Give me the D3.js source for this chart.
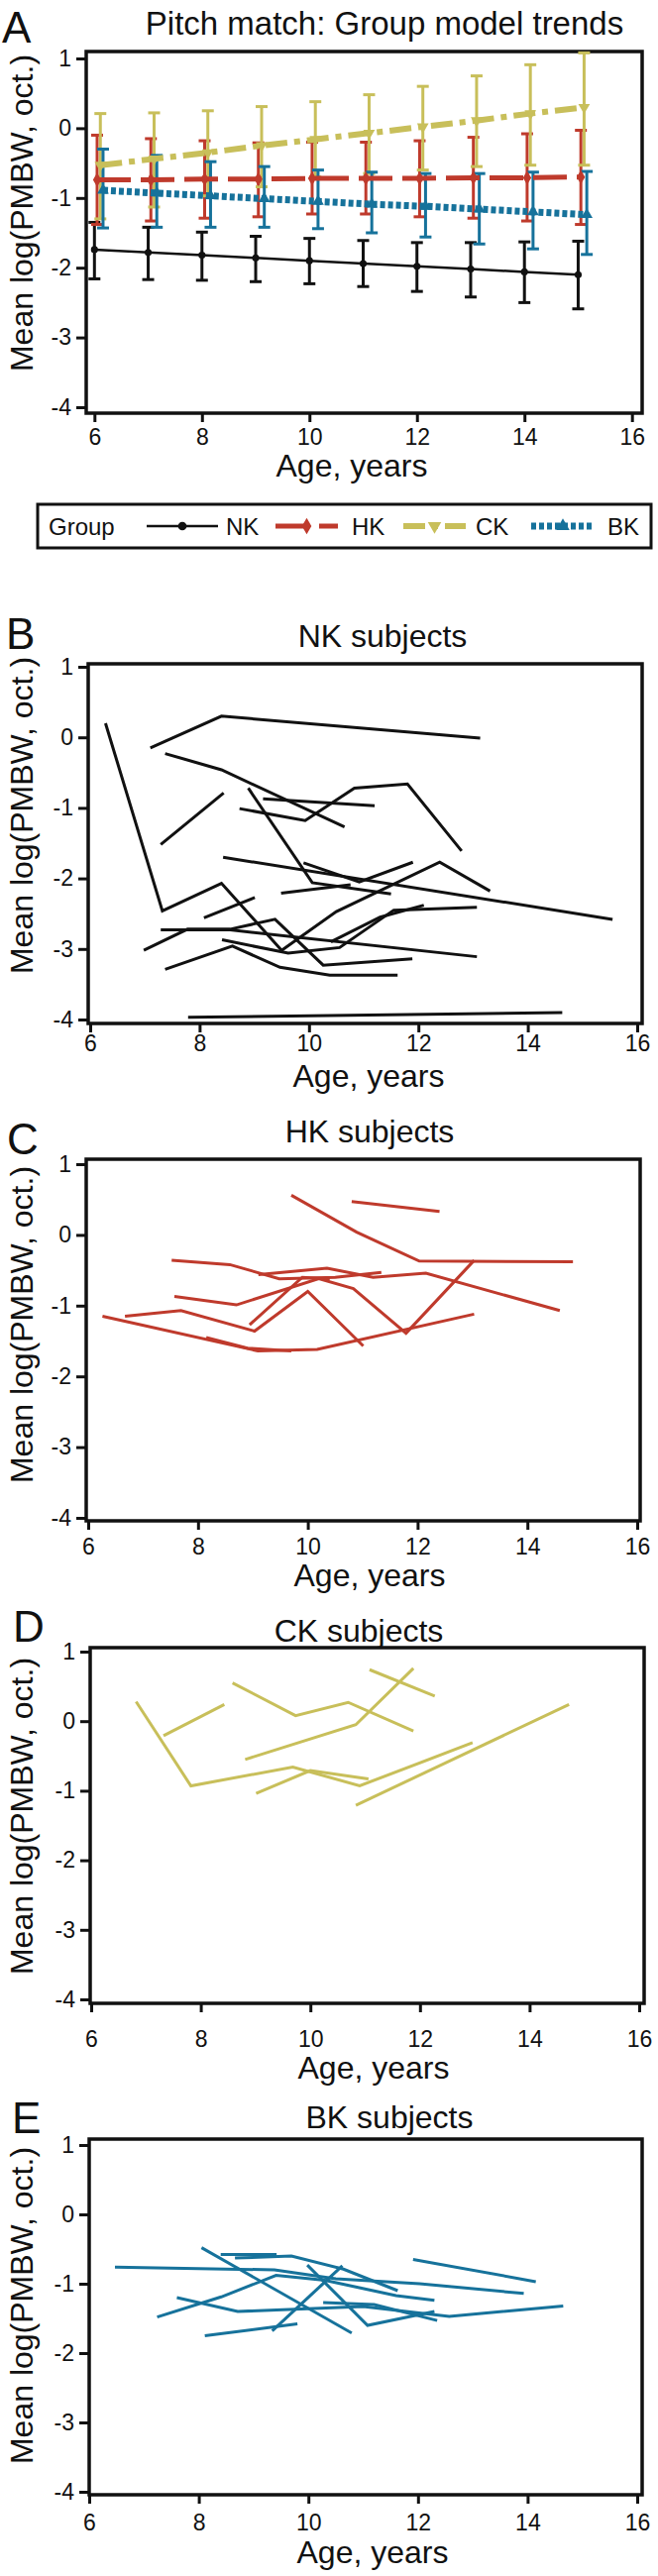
<!DOCTYPE html>
<html>
<head>
<meta charset="utf-8">
<script src="https://cdn.jsdelivr.net/npm/d3@7"></script>
<style>
  body { margin: 0; background: #fff; }
  svg text { font-family: "Liberation Sans", Arial, sans-serif; fill: #111; }
</style>
</head>
<body>
<script>
// ---------- data ----------
var ages = [6, 7, 8, 9, 10, 11, 12, 13, 14, 15];
var groups = ["NK", "HK", "CK", "BK"];
var xTicks = [6, 8, 10, 12, 14, 16];
var yTicks = [1, 0, -1, -2, -3, -4];

// panel A: model means and error bar ends
var nkMean = [-1.74, -1.78, -1.82, -1.86, -1.90, -1.94, -1.98, -2.02, -2.06, -2.10];
var nkLo   = [-2.16, -2.17, -2.18, -2.20, -2.23, -2.27, -2.34, -2.42, -2.50, -2.59];
var nkHi   = [-1.35, -1.42, -1.49, -1.55, -1.58, -1.61, -1.64, -1.64, -1.63, -1.62];

var hkMean = [-0.74, -0.74, -0.73, -0.73, -0.72, -0.72, -0.72, -0.71, -0.71, -0.70];
var hkLo   = [-1.38, -1.33, -1.29, -1.27, -1.23, -1.23, -1.27, -1.29, -1.33, -1.38];
var hkHi   = [-0.10, -0.15, -0.18, -0.21, -0.20, -0.20, -0.18, -0.13, -0.08, -0.03];

var ckMean = [-0.53, -0.44, -0.35, -0.25, -0.16, -0.07, 0.02, 0.11, 0.21, 0.30];
var ckLo   = [-1.30, -1.13, -0.97, -0.84, -0.70, -0.65, -0.60, -0.55, -0.53, -0.53];
var ckHi   = [0.21, 0.22, 0.25, 0.31, 0.38, 0.48, 0.60, 0.75, 0.91, 1.08];

var bkMean = [-0.89, -0.93, -0.97, -1.01, -1.05, -1.09, -1.12, -1.16, -1.20, -1.24];
var bkLo   = [-1.43, -1.42, -1.42, -1.42, -1.44, -1.50, -1.56, -1.66, -1.73, -1.81];
var bkHi   = [-0.30, -0.39, -0.48, -0.55, -0.60, -0.63, -0.65, -0.65, -0.63, -0.62];

// panels B-E: one polyline per subject, [age, value]
var nkSubjects = [
  [[6.28, 0.20], [7.32, -2.46], [8.40, -2.07], [9.50, -3.02], [10.5, -2.47], [12.39, -1.77], [13.31, -2.18]],
  [[7.1, -0.15], [8.4, 0.30], [13.13, -0.01]],
  [[7.37, -0.23], [8.4, -0.46], [10.65, -1.27]],
  [[7.29, -1.52], [8.44, -0.79]],
  [[8.73, -1.01], [9.93, -1.18], [10.83, -0.72], [11.8, -0.66], [12.79, -1.61]],
  [[9.16, -0.87], [11.2, -0.97]],
  [[8.89, -0.72], [10.06, -2.06], [11.5, -2.22]],
  [[9.49, -2.21], [10.76, -2.09]],
  [[8.43, -1.70], [15.55, -2.58]],
  [[9.9, -1.78], [10.92, -2.05], [11.9, -1.77]],
  [[7.29, -2.73], [8.56, -2.73], [13.07, -3.11]],
  [[6.98, -3.02], [7.78, -2.72], [8.56, -2.72], [9.38, -2.58], [10.26, -3.23], [11.89, -3.14]],
  [[7.37, -3.29], [8.6, -2.96], [9.47, -3.26], [10.38, -3.37], [11.62, -3.37]],
  [[8.41, -2.87], [9.62, -3.06], [10.56, -2.98], [11.55, -2.45], [13.07, -2.41]],
  [[10.4, -2.9], [11.3, -2.55], [12.1, -2.38]],
  [[8.08, -2.56], [9.01, -2.27]],
  [[7.79, -3.97], [14.63, -3.90]]
];

var hkSubjects = [
  [[9.70, 0.56], [10.89, 0.04], [12.03, -0.37], [14.83, -0.38]],
  [[10.80, 0.47], [12.40, 0.33]],
  [[7.52, -0.36], [8.58, -0.42], [9.48, -0.62], [10.5, -0.60], [11.34, -0.53]],
  [[9.1, -0.56], [10.35, -0.47], [11.19, -0.60], [12.15, -0.54], [14.59, -1.07]],
  [[7.57, -0.87], [8.7, -0.99], [10.2, -0.62], [10.83, -0.76], [11.79, -1.39], [13.03, -0.36]],
  [[6.67, -1.15], [7.69, -1.07], [9.03, -1.36], [10.0, -0.80], [11.01, -1.57]],
  [[8.94, -1.27], [9.9, -0.60], [10.4, -0.62]],
  [[6.26, -1.15], [9.09, -1.64], [10.17, -1.62], [13.03, -1.12]],
  [[8.15, -1.45], [8.9, -1.60], [9.7, -1.64]]
];

var ckSubjects = [
  [[6.82, 0.28], [7.82, -0.93], [9.68, -0.66], [10.9, -0.93], [12.96, -0.31]],
  [[9.01, -1.04], [10.0, -0.71], [11.06, -0.83]],
  [[10.83, -1.21], [14.72, 0.24]],
  [[7.32, -0.21], [8.43, 0.24]],
  [[8.58, 0.55], [9.73, 0.08], [10.69, 0.27], [11.88, -0.14]],
  [[8.81, -0.55], [10.83, -0.05], [11.88, 0.76]],
  [[11.08, 0.74], [12.27, 0.36]]
];

var bkSubjects = [
  [[6.47, -0.76], [9.38, -0.80], [10.5, -0.93], [12.03, -1.00], [13.93, -1.14]],
  [[8.05, -0.48], [10.79, -1.71]],
  [[8.40, -0.58], [9.42, -0.58]],
  [[8.66, -0.63], [9.69, -0.60], [10.64, -0.79], [11.63, -1.10]],
  [[11.91, -0.65], [14.15, -0.97]],
  [[7.24, -1.48], [8.41, -1.19], [9.41, -0.88], [10.3, -0.95], [11.6, -1.17], [12.3, -1.24]],
  [[7.6, -1.20], [8.71, -1.40], [11.0, -1.33], [12.57, -1.47], [14.65, -1.32]],
  [[8.11, -1.75], [9.8, -1.58]],
  [[9.34, -1.68], [10.62, -0.74]],
  [[9.98, -0.73], [11.08, -1.60], [12.3, -1.40]],
  [[10.27, -1.27], [11.2, -1.30], [12.35, -1.53]]
];

// ---------- drawing ----------
var colors = { NK: "#111111", HK: "#bf3a2c", CK: "#c8bf5a", BK: "#16729b" };
var font = '"Liberation Sans", Arial, sans-serif';

var svg = d3.select("body").append("svg")
  .attr("width", 664)
  .attr("height", 2600);

svg.append("rect").attr("width", 664).attr("height", 2600).attr("fill", "#fff");

// one panel frame with axes, titles and labels; returns its scales
function drawPanel(p) {
  var x = d3.scaleLinear().domain([6, 16]).range([p.x6, p.x16]);
  var y = d3.scaleLinear().domain([1, -4]).range([p.y1, p.y4]);

  var yAxis = d3.axisLeft(y).tickValues(yTicks).tickSize(10).tickPadding(5)
    .tickFormat(function(d) { return String(d); });
  var gy = svg.append("g").attr("transform", "translate(" + p.left + ",0)").call(yAxis);
  gy.select(".domain").remove();
  gy.attr("font-size", 23).attr("font-family", font);
  gy.selectAll("line").attr("stroke", "#111").attr("stroke-width", 3);
  gy.selectAll("text").attr("fill", "#111");

  var xAxis = d3.axisBottom(x).tickValues(xTicks).tickSize(9)
    .tickFormat(function(d) { return String(d); });
  var gx = svg.append("g").attr("transform", "translate(0," + p.bottom + ")").call(xAxis);
  gx.select(".domain").remove();
  gx.attr("font-size", 23).attr("font-family", font);
  gx.selectAll("line").attr("stroke", "#111").attr("stroke-width", 3);
  gx.selectAll("text").attr("fill", "#111")
    .attr("y", p.tickBase - p.bottom).attr("dy", null);

  svg.append("rect")
    .attr("x", p.left).attr("y", p.top)
    .attr("width", p.right - p.left).attr("height", p.bottom - p.top)
    .attr("fill", "none").attr("stroke", "#111").attr("stroke-width", 3.5);

  svg.append("text").attr("x", p.lx).attr("y", p.ly)
    .attr("font-size", 44).text(p.letter);

  svg.append("text").attr("x", p.tx).attr("y", p.ty)
    .attr("text-anchor", "middle").attr("font-size", p.titleSize)
    .text(p.title);

  svg.append("text").attr("x", p.ageX).attr("y", p.ageY)
    .attr("text-anchor", "middle").attr("font-size", 32)
    .text("Age, years");

  svg.append("text")
    .attr("transform", "translate(33," + p.ylabY + ") rotate(-90)")
    .attr("text-anchor", "middle").attr("font-size", 32)
    .text("Mean log(PMBW, oct.)");

  return { x: x, y: y };
}

var panelA = drawPanel({
  left: 87, right: 648, top: 52, bottom: 417,
  x6: 95.3, x16: 637.7, y1: 59, y4: 411, tickBase: 449,
  letter: "A", lx: 2, ly: 43,
  title: "Pitch match: Group model trends", tx: 388, ty: 35, titleSize: 33,
  ageX: 355, ageY: 481, ylabY: 215
});

// panel A: error bars, trend lines and markers
var seriesA = [
  { key: "NK", mean: nkMean, lo: nkLo, hi: nkHi, dodge: 0, width: 2.5, dash: null, symbol: d3.symbolCircle, size: 40 },
  { key: "HK", mean: hkMean, lo: hkLo, hi: hkHi, dodge: 0.05, width: 5, dash: "34,10", symbol: d3.symbolDiamond, size: 60 },
  { key: "CK", mean: ckMean, lo: ckLo, hi: ckHi, dodge: 0.11, width: 6, dash: "22,7,6,7", symbol: d3.symbolTriangle, size: 60, flip: true },
  { key: "BK", mean: bkMean, lo: bkLo, hi: bkHi, dodge: 0.16, width: 7, dash: "5,3", symbol: d3.symbolTriangle, size: 60 }
];

var xa = panelA.x, ya = panelA.y;
var capW = 6;

seriesA.forEach(function(s) {
  var g = svg.append("g").attr("stroke", colors[s.key]).attr("stroke-width", 3);
  var rows = ages.map(function(a, i) { return { a: a + s.dodge, lo: s.lo[i], hi: s.hi[i] }; });
  g.selectAll("line.v").data(rows).enter().append("line")
    .attr("x1", function(d) { return xa(d.a); }).attr("x2", function(d) { return xa(d.a); })
    .attr("y1", function(d) { return ya(d.lo); }).attr("y2", function(d) { return ya(d.hi); });
  g.selectAll("line.t").data(rows).enter().append("line")
    .attr("x1", function(d) { return xa(d.a) - capW; }).attr("x2", function(d) { return xa(d.a) + capW; })
    .attr("y1", function(d) { return ya(d.hi); }).attr("y2", function(d) { return ya(d.hi); });
  g.selectAll("line.b").data(rows).enter().append("line")
    .attr("x1", function(d) { return xa(d.a) - capW; }).attr("x2", function(d) { return xa(d.a) + capW; })
    .attr("y1", function(d) { return ya(d.lo); }).attr("y2", function(d) { return ya(d.lo); });
});

seriesA.forEach(function(s) {
  var pts = ages.map(function(a, i) { return [a + s.dodge, s.mean[i]]; });
  var line = d3.line().x(function(d) { return xa(d[0]); }).y(function(d) { return ya(d[1]); });
  svg.append("path").attr("d", line(pts))
    .attr("fill", "none").attr("stroke", colors[s.key])
    .attr("stroke-width", s.width)
    .attr("stroke-dasharray", s.dash);
  svg.selectAll(null).data(pts).enter().append("path")
    .attr("d", d3.symbol().type(s.symbol).size(s.size))
    .attr("transform", function(d) {
      return "translate(" + xa(d[0]) + "," + ya(d[1]) + ")" + (s.flip ? " rotate(180)" : "");
    })
    .attr("fill", colors[s.key]);
});

// legend
var leg = svg.append("g");
leg.append("rect").attr("x", 38).attr("y", 509).attr("width", 619).attr("height", 44)
  .attr("fill", "none").attr("stroke", "#111").attr("stroke-width", 3);
leg.append("text").attr("x", 49).attr("y", 540).attr("font-size", 24).text("Group");
var legItems = [
  { s: seriesA[0], x0: 148, x1: 220, tx: 228 },
  { s: seriesA[1], x0: 278, x1: 341, tx: 355 },
  { s: seriesA[2], x0: 407, x1: 470, tx: 480 },
  { s: seriesA[3], x0: 536, x1: 600, tx: 613 }
];
legItems.forEach(function(it) {
  var s = it.s;
  leg.append("line").attr("x1", it.x0).attr("x2", it.x1).attr("y1", 531).attr("y2", 531)
    .attr("stroke", colors[s.key]).attr("stroke-width", s.width)
    .attr("stroke-dasharray", s.dash);
  leg.append("path").attr("d", d3.symbol().type(s.symbol).size(s.size + 20))
    .attr("transform", "translate(" + (it.x0 + it.x1) / 2 + ",531)" + (s.flip ? " rotate(180)" : ""))
    .attr("fill", colors[s.key]);
  leg.append("text").attr("x", it.tx).attr("y", 540).attr("font-size", 24).text(s.key);
});

// subject panels
var subjectPanels = [
  { data: nkSubjects, key: "NK",
    p: { left: 89, right: 648, top: 670, bottom: 1033, x6: 91, x16: 643, y1: 673, y4: 1029, tickBase: 1061,
         letter: "B", lx: 6, ly: 655, title: "NK subjects", tx: 386, ty: 653, titleSize: 32,
         ageX: 372, ageY: 1097, ylabY: 823 } },
  { data: hkSubjects, key: "HK",
    p: { left: 87, right: 646, top: 1170, bottom: 1535, x6: 89, x16: 643, y1: 1175, y4: 1532, tickBase: 1569,
         letter: "C", lx: 7, ly: 1165, title: "HK subjects", tx: 373, ty: 1153, titleSize: 32,
         ageX: 373, ageY: 1601, ylabY: 1337 } },
  { data: ckSubjects, key: "CK",
    p: { left: 91, right: 650, top: 1663, bottom: 2022, x6: 92, x16: 645, y1: 1667, y4: 2018, tickBase: 2066,
         letter: "D", lx: 13, ly: 1657, title: "CK subjects", tx: 362, ty: 1657, titleSize: 32,
         ageX: 377, ageY: 2098, ylabY: 1833 } },
  { data: bkSubjects, key: "BK",
    p: { left: 90, right: 648, top: 2159, bottom: 2518, x6: 90, x16: 643, y1: 2165, y4: 2515, tickBase: 2554,
         letter: "E", lx: 12, ly: 2153, title: "BK subjects", tx: 393, ty: 2148, titleSize: 32,
         ageX: 376, ageY: 2587, ylabY: 2327 } }
];

subjectPanels.forEach(function(sp) {
  var sc = drawPanel(sp.p);
  var line = d3.line().x(function(d) { return sc.x(d[0]); }).y(function(d) { return sc.y(d[1]); });
  svg.append("g").selectAll("path").data(sp.data).enter().append("path")
    .attr("d", line)
    .attr("fill", "none")
    .attr("stroke", colors[sp.key])
    .attr("stroke-width", 3);
});
</script>
</body>
</html>
